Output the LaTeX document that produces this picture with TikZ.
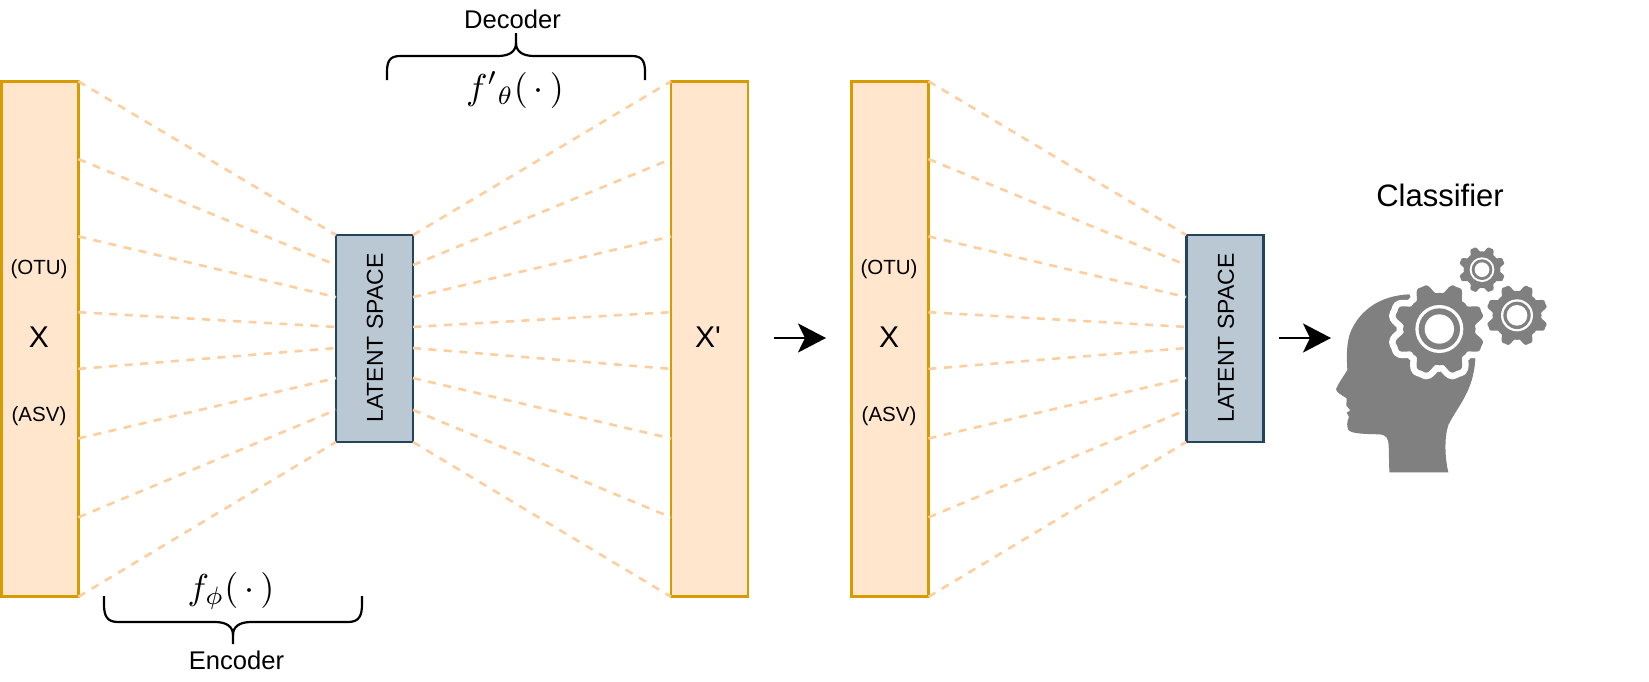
\documentclass[tikz,border=0pt]{standalone}
\usepackage{fontspec}
\setmainfont{Liberation Sans}
\newfontfamily\plainsans{Liberation Sans}
\usetikzlibrary{arrows.meta,calc}
\definecolor{barfill}{HTML}{FFE6CC}
\definecolor{barline}{HTML}{D79B00}
\definecolor{latfill}{HTML}{BAC8D3}
\definecolor{latline}{HTML}{23445D}
\definecolor{linkcol}{HTML}{FFCE9F}
\definecolor{headcol}{HTML}{808080}
\newcommand{\fsz}[1]{\fontsize{#1}{#1}\selectfont}
\newcommand{\gearshape}[3]{% cx, cy, R
  plot[domain=0:360,samples=193,smooth] ({#1+#3*(.90+.10*(1.25*cos(8*\x-180)-.25*cos(3*(8*\x-180))))*cos(\x)},{#2+#3*(.90+.10*(1.25*cos(8*\x-180)-.25*cos(3*(8*\x-180))))*sin(\x)}) -- cycle}
\tikzset{
  barbox/.style={rectangle,draw=barline,fill=barfill,line width=2.6pt,minimum width=77pt,minimum height=515.5pt,inner sep=0pt,outer sep=0pt},
  latbox/.style={rectangle,draw=latline,fill=latfill,line width=2.8pt,minimum width=77pt,minimum height=207pt,inner sep=0pt,outer sep=0pt},
  link/.style={draw=linkcol,line width=2.6pt,dash pattern=on 8pt off 7.5pt},
  bracepath/.style={draw=black,line width=2.2pt},
  flowarrow/.style={draw=black,line width=2.6pt,-{Stealth[length=28pt,width=29pt,inset=7pt]}},
  lbl/.style={inner sep=0pt,outer sep=0pt,text=black},
}
\begin{document}
\begin{tikzpicture}[x=1pt,y=-1pt]
\useasboundingbox (0,0) rectangle (1649,681);
% boxes
\node[barbox] (in1) at (39.8,339) {};
\node[latbox] (lat1) at (374.5,338.5) {};
\node[barbox] (out1) at (709.5,339) {};
\node[barbox] (in2) at (890,339) {};
\node[latbox] (lat2) at (1224.7,338.5) {};
% dashed links
\foreach \f/\g in {0/0,.151/.145,.301/.300,.448/.444,.558/.546,.693/.691,.846/.845,1/1}{
  \draw[link] ($(in1.north east)!\f!(in1.south east)$) -- ($(lat1.north west)!\g!(lat1.south west)$);
  \draw[link] ($(lat1.north east)!\g!(lat1.south east)$) -- ($(out1.north west)!\f!(out1.south west)$);
  \draw[link] ($(in2.north east)!\f!(in2.south east)$) -- ($(lat2.north west)!\g!(lat2.south west)$);
}
% box labels
\node[lbl,font=\fsz{20.5}] (otu1) at (39,269.5) {(OTU)};
\node[lbl,font=\fsz{30}] (x1) at (39,337) {X};
\node[lbl,font=\fsz{20.5}] (asv1) at (39,416) {(ASV)};
\node[lbl,font=\plainsans\fsz{30}] (x2) at (708,337) {X'};
\node[lbl,font=\fsz{20.5}] (otu2) at (889,269.5) {(OTU)};
\node[lbl,font=\fsz{30}] (x3) at (889,337) {X};
\node[lbl,font=\fsz{20.5}] (asv2) at (889,416) {(ASV)};
\node[lbl,font=\fsz{23},rotate=90] (lt1) at (375,338) {LATENT SPACE};
\node[lbl,font=\fsz{23},rotate=90] (lt2) at (1226,338) {LATENT SPACE};
% braces
\draw[bracepath] (387,80) -- (387,72) .. controls (387,61) and (390,56) .. (400,56) -- (498,56) .. controls (510,56) and (516,51) .. (516,43) -- (516,33);
\draw[bracepath] (645,80) -- (645,72) .. controls (645,61) and (642,56) .. (632,56) -- (534,56) .. controls (522,56) and (516,51) .. (516,43);
\draw[bracepath] (104,596) -- (104,604) .. controls (104,616) and (107,622) .. (118,622) -- (215,622) .. controls (227,622) and (233,627) .. (233,635) -- (233,644);
\draw[bracepath] (362,596) -- (362,604) .. controls (362,616) and (359,622) .. (348,622) -- (251,622) .. controls (239,622) and (233,627) .. (233,635);
\node[lbl,font=\fsz{25.6}] (dec) at (512.5,19) {Decoder};
\node[lbl,font=\fsz{25.6}] (enc) at (236.5,660) {Encoder};
\node[lbl] (fd) at (515,90) {\scalebox{3.6}{$f'{}_{\theta}(\,\cdot\,)$}};
\node[lbl] (fe) at (231,591) {\scalebox{3.6}{$f_{\phi}(\,\cdot\,)$}};
\node[lbl,font=\fsz{31}] (cls) at (1440,195) {Classifier};
% arrows
\coordinate (a1s) at (774,338);
\coordinate (a1e) at (826,338);
\coordinate (a2s) at (1279,338);
\coordinate (a2e) at (1331,338);
\draw[flowarrow] (a1s) -- (a1e);
\draw[flowarrow] (a2s) -- (a2e);
% head with gears
\begin{scope}[shift={(1330,235)},x=0.33333pt,y=-0.33333pt]
\fill[headcol] (237,178) .. controls (150,182) and (90,225) .. (62,290)
  .. controls (48,325) and (50,370) .. (52,405)
  .. controls (40,425) and (25,445) .. (18,462)
  .. controls (18,472) and (35,480) .. (50,490)
  -- (49,512) -- (61,526) -- (50,533) -- (57,546)
  .. controls (50,560) and (50,575) .. (55,585)
  .. controls (65,597) and (110,597) .. (150,598)
  .. controls (168,600) and (175,610) .. (176,630)
  -- (178,712) -- (355,712)
  .. controls (345,670) and (342,610) .. (355,570)
  .. controls (385,510) and (430,470) .. (436,372)
  -- cycle;
\draw[white,line width=13pt] \gearshape{328}{282}{136};
\fill[headcol] \gearshape{328}{282}{136};
\fill[white] (328,282) circle (72);
\fill[headcol] (328,282) circle (62);
\fill[white] (328,282) circle (44);
\fill[headcol] \gearshape{456}{104}{69};
\fill[white] (456,104) circle (37);
\fill[headcol] (456,104) circle (31);
\fill[white] (456,104) circle (22);
\fill[headcol] \gearshape{561}{241}{92};
\fill[white] (561,241) circle (48);
\fill[headcol] (561,241) circle (41);
\fill[white] (561,241) circle (31);
\end{scope}
\end{tikzpicture}
\end{document}
